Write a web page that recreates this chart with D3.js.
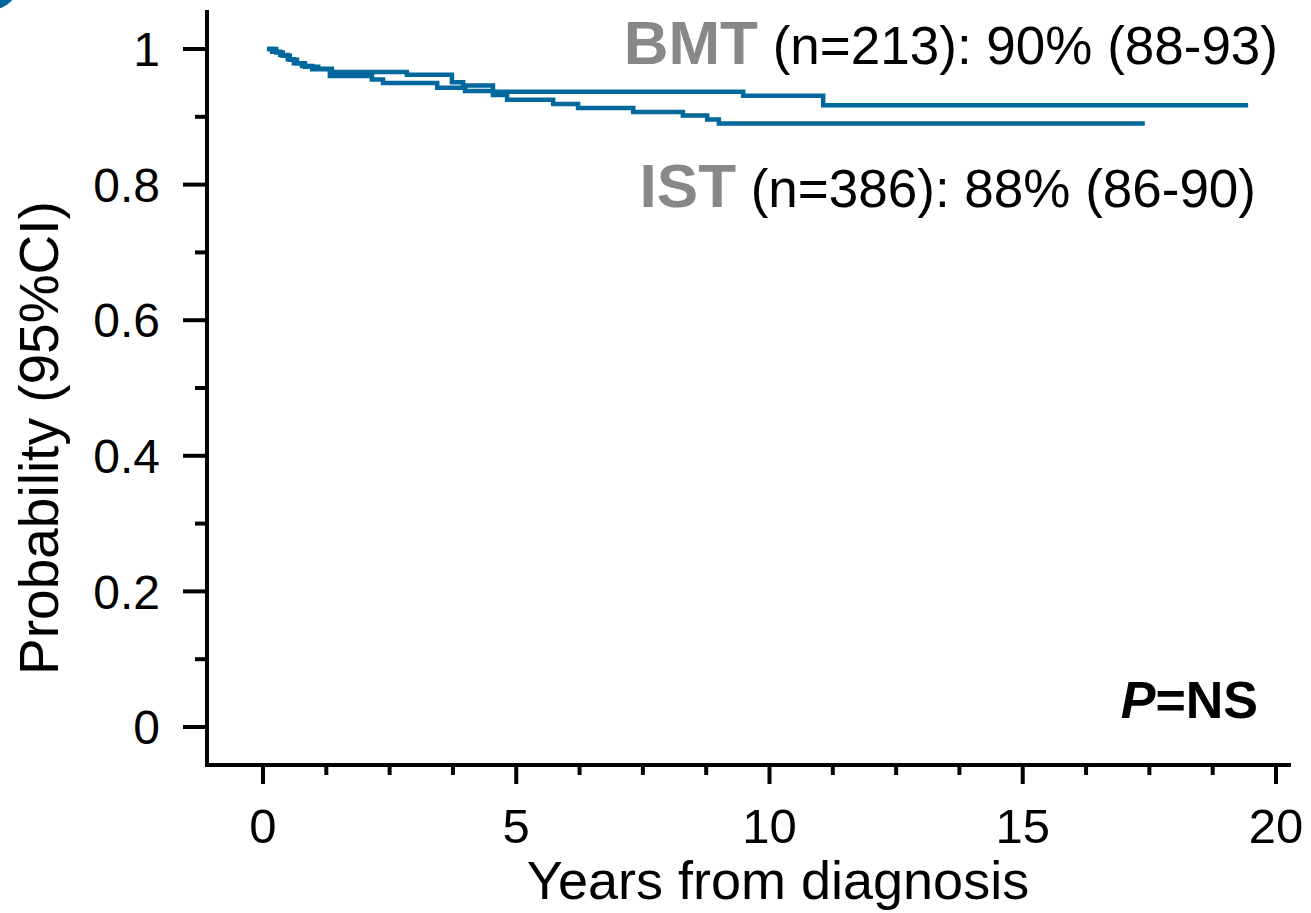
<!DOCTYPE html>
<html>
<head>
<meta charset="utf-8">
<script src="https://cdn.jsdelivr.net/npm/d3@7"></script>
<style>
  html, body { margin: 0; padding: 0; background: #fff; }
  svg { display: block; }
  text { font-family: "Liberation Sans", Arial, Helvetica, sans-serif; }
</style>
</head>
<body>
<script>
// Kaplan-Meier step data: time (years) and survival probability after each event
const bmtTimes = [0.08, 0.26, 0.39, 0.53, 0.67, 0.83, 1.09, 1.36, 2.84, 3.73, 3.95, 4.54, 9.48, 11.06, 19.45];
const bmtSurv  = [1.000, 0.995, 0.990, 0.984, 0.979, 0.974, 0.971, 0.966, 0.962, 0.951, 0.946, 0.937, 0.931, 0.917, 0.917];

const istTimes = [0.08, 0.18, 0.34, 0.49, 0.61, 0.77, 0.97, 1.32, 2.15, 2.37, 3.44, 3.99, 4.54, 4.82, 5.73, 6.22, 7.31, 8.29, 8.77, 9.00, 17.41];
const istSurv  = [1.000, 0.996, 0.991, 0.985, 0.979, 0.975, 0.970, 0.960, 0.955, 0.950, 0.943, 0.938, 0.932, 0.925, 0.919, 0.913, 0.907, 0.902, 0.896, 0.890, 0.890];

const xMajorTicks = [0, 5, 10, 15, 20];
const xMinorTicks = [1.25, 2.5, 3.75, 6.25, 7.5, 8.75, 11.25, 12.5, 13.75, 16.25, 17.5, 18.75];
const yMajorTicks = [0, 0.2, 0.4, 0.6, 0.8, 1];
const yMinorTicks = [0.1, 0.3, 0.5, 0.7, 0.9];

const groupNames  = ["BMT", "IST"];
const groupStats  = [" (n=213): 90% (88-93)", " (n=386): 88% (86-90)"];
const pValueLabel = ["P", "=NS"];

const W = 1311, H = 913;
const curveColor = "#00689c";

const svg = d3.select("body").append("svg")
  .attr("width", W).attr("height", H);

const x = d3.scaleLinear().domain([0, 20]).range([263, 1276]);
const y = d3.scaleLinear().domain([0, 1]).range([727, 49]);

// panel badge in the corner
svg.append("circle").attr("cx", -10).attr("cy", -20).attr("r", 30).attr("fill", curveColor);

// axes
const axisY = 765, axisX = 207;
const axisG = svg.append("g").attr("stroke", "#000").attr("stroke-width", 4).attr("fill", "none");
axisG.append("line").attr("x1", axisX).attr("x2", axisX).attr("y1", 10).attr("y2", axisY + 2);
axisG.append("line").attr("x1", axisX - 2).attr("x2", 1291).attr("y1", axisY).attr("y2", axisY);

// y ticks
axisG.selectAll("line.ymaj").data(yMajorTicks).join("line").attr("class", "ymaj")
  .attr("x1", axisX - 24).attr("x2", axisX).attr("y1", d => y(d)).attr("y2", d => y(d));
axisG.selectAll("line.ymin").data(yMinorTicks).join("line").attr("class", "ymin")
  .attr("x1", axisX - 12).attr("x2", axisX).attr("y1", d => y(d)).attr("y2", d => y(d));
// x ticks
axisG.selectAll("line.xmaj").data(xMajorTicks).join("line").attr("class", "xmaj")
  .attr("x1", d => x(d)).attr("x2", d => x(d)).attr("y1", axisY).attr("y2", axisY + 19);
axisG.selectAll("line.xmin").data(xMinorTicks).join("line").attr("class", "xmin")
  .attr("x1", d => x(d)).attr("x2", d => x(d)).attr("y1", axisY).attr("y2", axisY + 10);

// tick labels
const fmtY = d => d === 0 ? "0" : d === 1 ? "1" : d3.format(".1f")(d);
svg.selectAll("text.ylab").data(yMajorTicks).join("text").attr("class", "ylab")
  .attr("x", 160).attr("y", d => y(d)).attr("dy", "0.36em")
  .attr("text-anchor", "end").attr("font-size", 48).text(fmtY);
svg.selectAll("text.xlab").data(xMajorTicks).join("text").attr("class", "xlab")
  .attr("x", d => x(d)).attr("y", 843)
  .attr("text-anchor", "middle").attr("font-size", 49).text(d => d);

// axis titles
svg.append("text").attr("x", 778).attr("y", 899).attr("text-anchor", "middle")
  .attr("font-size", 54).text("Years from diagnosis");
svg.append("text").attr("transform", "translate(58,438) rotate(-90)")
  .attr("text-anchor", "middle").attr("font-size", 55).text("Probability (95%CI)");

// survival curves
const line = d3.line().x(d => x(d[0])).y(d => y(d[1])).curve(d3.curveStepAfter);
const series = [d3.zip(bmtTimes, bmtSurv), d3.zip(istTimes, istSurv)];
svg.selectAll("path.km").data(series).join("path").attr("class", "km")
  .attr("d", line).attr("fill", "none").attr("stroke", curveColor).attr("stroke-width", 4.5);

// group labels
const labelPos = [[1278, 64], [1256, 207]];
groupNames.forEach((g, i) => {
  const t = svg.append("text").attr("x", labelPos[i][0]).attr("y", labelPos[i][1])
    .attr("text-anchor", "end");
  t.append("tspan").attr("font-size", 62).attr("font-weight", "bold").attr("fill", "#888").text(g);
  t.append("tspan").attr("font-size", 53).attr("fill", "#000").text(groupStats[i]);
});

// p-value
const pt = svg.append("text").attr("x", 1258).attr("y", 718).attr("text-anchor", "end")
  .attr("font-size", 52).attr("font-weight", "bold");
pt.append("tspan").attr("font-style", "italic").text(pValueLabel[0]);
pt.append("tspan").text(pValueLabel[1]);
</script>
</body>
</html>
